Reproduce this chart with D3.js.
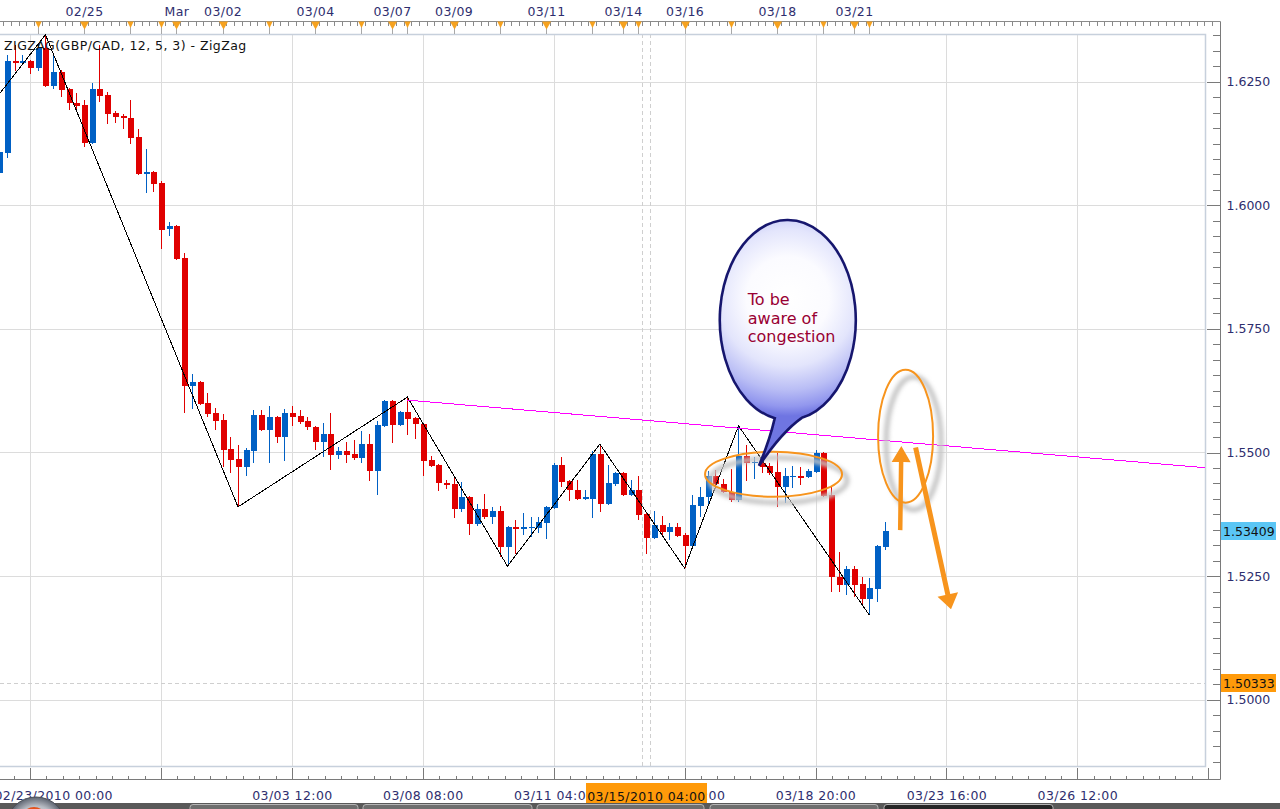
<!DOCTYPE html>
<html><head><meta charset="utf-8">
<script src="https://cdn.jsdelivr.net/npm/d3@7"></script>
<style>
html,body{margin:0;padding:0;background:#fff;overflow:hidden}
svg{display:block}
text{font-family:"DejaVu Sans",Verdana,sans-serif}
</style></head><body>
<svg id="c" width="1280" height="809"></svg>
<script>
// ---------- DATA (GBP/CAD H4 candles, index 0..115) ----------
const opens=[1.6066,1.6106,1.6292,1.6288,1.6292,1.6278,1.6318,1.6241,1.6270,1.6235,
1.6207,1.6203,1.6126,1.6235,1.6223,1.6187,1.6181,1.6177,1.6138,1.6063,
1.6067,1.6045,1.5952,1.5958,1.5894,1.5635,1.5643,1.5600,1.5580,1.5566,
1.5507,1.5487,1.5471,1.5503,1.5576,1.5546,1.5572,1.5531,1.5580,1.5574,
1.5564,1.5552,1.5521,1.5537,1.5495,1.5503,1.5497,1.5489,1.5517,1.5463,
1.5554,1.5604,1.5556,1.5582,1.5570,1.5558,1.5485,1.5475,1.5438,1.5436,
1.5386,1.5410,1.5355,1.5386,1.5370,1.5382,1.5309,1.5349,1.5345,1.5347,
1.5347,1.5357,1.5388,1.5475,1.5442,1.5424,1.5406,1.5406,1.5497,1.5396,
1.5436,1.5459,1.5414,1.5424,1.5376,1.5327,1.5353,1.5339,1.5349,1.5333,
1.5311,1.5392,1.5410,1.5452,1.5436,1.5420,1.5404,1.5493,1.5479,1.5479,
1.5473,1.5461,1.5430,1.5450,1.5452,1.5450,1.5461,1.5499,1.5414,1.5248,
1.5232,1.5264,1.5234,1.5204,1.5224,1.5309];
const highs=[1.6116,1.6304,1.6324,1.6304,1.6294,1.6326,1.6345,1.6304,1.6274,1.6237,
1.6227,1.6213,1.6248,1.6324,1.6229,1.6191,1.6185,1.6213,1.6154,1.6114,
1.6070,1.6049,1.5966,1.5960,1.5904,1.5659,1.5645,1.5620,1.5590,1.5578,
1.5531,1.5515,1.5509,1.5586,1.5586,1.5594,1.5574,1.5588,1.5594,1.5586,
1.5572,1.5554,1.5560,1.5580,1.5511,1.5521,1.5525,1.5544,1.5537,1.5564,
1.5606,1.5606,1.5584,1.5612,1.5572,1.5560,1.5493,1.5477,1.5444,1.5448,
1.5440,1.5412,1.5396,1.5416,1.5390,1.5392,1.5351,1.5363,1.5378,1.5370,
1.5370,1.5392,1.5479,1.5491,1.5444,1.5444,1.5424,1.5503,1.5517,1.5475,
1.5461,1.5461,1.5444,1.5452,1.5378,1.5382,1.5372,1.5357,1.5357,1.5337,
1.5414,1.5430,1.5463,1.5465,1.5446,1.5467,1.5554,1.5515,1.5491,1.5481,
1.5479,1.5499,1.5469,1.5473,1.5471,1.5467,1.5505,1.5501,1.5430,1.5299,
1.5270,1.5270,1.5248,1.5246,1.5313,1.5359];
const lows=[1.6059,1.6096,1.6272,1.6284,1.6266,1.6272,1.6239,1.6235,1.6219,1.6193,
1.6193,1.6118,1.6124,1.6209,1.6165,1.6167,1.6154,1.6124,1.6061,1.6025,
1.6027,1.5912,1.5938,1.5889,1.5580,1.5588,1.5596,1.5572,1.5546,1.5471,
1.5459,1.5390,1.5452,1.5479,1.5544,1.5479,1.5519,1.5483,1.5554,1.5558,
1.5546,1.5505,1.5491,1.5465,1.5487,1.5479,1.5485,1.5479,1.5442,1.5414,
1.5552,1.5519,1.5554,1.5535,1.5527,1.5452,1.5471,1.5422,1.5426,1.5368,
1.5380,1.5333,1.5351,1.5366,1.5355,1.5289,1.5270,1.5295,1.5333,1.5329,
1.5337,1.5325,1.5386,1.5430,1.5402,1.5404,1.5404,1.5368,1.5380,1.5394,
1.5432,1.5412,1.5412,1.5363,1.5295,1.5325,1.5331,1.5323,1.5329,1.5266,
1.5307,1.5370,1.5396,1.5426,1.5418,1.5400,1.5400,1.5442,1.5446,1.5459,
1.5455,1.5390,1.5398,1.5428,1.5434,1.5448,1.5459,1.5410,1.5218,1.5218,
1.5212,1.5208,1.5194,1.5171,1.5198,1.5303];
const closes=[1.6108,1.6292,1.6288,1.6292,1.6278,1.6318,1.6241,1.6270,1.6233,1.6207,
1.6201,1.6126,1.6235,1.6221,1.6185,1.6179,1.6177,1.6136,1.6063,1.6067,
1.6043,1.5950,1.5958,1.5891,1.5635,1.5643,1.5598,1.5578,1.5564,1.5505,
1.5485,1.5471,1.5505,1.5576,1.5546,1.5572,1.5531,1.5580,1.5572,1.5562,
1.5552,1.5521,1.5537,1.5495,1.5503,1.5495,1.5489,1.5517,1.5463,1.5556,
1.5604,1.5556,1.5582,1.5568,1.5558,1.5483,1.5473,1.5438,1.5434,1.5386,
1.5410,1.5355,1.5386,1.5370,1.5382,1.5309,1.5349,1.5345,1.5349,1.5349,
1.5359,1.5390,1.5475,1.5440,1.5424,1.5406,1.5410,1.5497,1.5396,1.5438,
1.5459,1.5414,1.5424,1.5374,1.5327,1.5353,1.5339,1.5349,1.5331,1.5311,
1.5394,1.5410,1.5452,1.5436,1.5420,1.5404,1.5493,1.5479,1.5481,1.5471,
1.5459,1.5430,1.5452,1.5452,1.5448,1.5463,1.5499,1.5412,1.5248,1.5232,
1.5264,1.5232,1.5204,1.5226,1.5311,1.5341];

const zigzagIdx=[-3,6,31,53,66,78,89,96,113];
const zigzagPrice=[1.6165,1.6345,1.5390,1.5612,1.5270,1.5517,1.5266,1.5554,1.5171];
const trendIdx=[53,157.5];
const trendPrice=[1.5606,1.5468];

const priceTicks=[1.5000,1.5250,1.5500,1.5750,1.6000,1.6250];
const topLabels=["02/25","Mar","03/02","03/04","03/07","03/09","03/11","03/14","03/16","03/18","03/21"];
const topLabelIdx=[11,23,29,41,51,59,71,81,89,101,111];
const eventIdx=[5,11,17,21,23,29,35,41,47,51,53,59,65,71,77,81,83,89,95,101,107,111,113];
const bottomLabels=["02/23/2010 00:00","","03/03 12:00","03/08 08:00","03/11 04:00","03/16 00:00","03/18 20:00","03/23 16:00","03/26 12:00",""];
const bottomLabelIdx=[4,21,38,55,72,89,106,123,140,157];
const legendText="ZIGZAG(GBP/CAD, 12, 5, 3) - ZigZag";
const lastPrice=1.53409, crossPrice=1.50333, crossIdx=84, crossLabel="03/15/2010 04:00";
const bubbleLines=["To be","aware of","congestion"];

// ---------- LAYOUT ----------
const svg=d3.select("#c");
const P={left:0,right:1205,top:34,bottom:766};
const AXR=1220.5, AXB=779.5, AXT=21.5;
const x=d3.scaleLinear().domain([0,100]).range([-0.7,769.3]);
const y=d3.scaleLinear().domain([1.5,1.625]).range([699.7,81.7]);
const navy="#2e2e6e", red="#e00000", blue="#0060c4", orange="#f7941d";

const defs=svg.append("defs");
defs.append("clipPath").attr("id","pc").append("rect")
  .attr("x",P.left).attr("y",P.top).attr("width",P.right-P.left).attr("height",P.bottom-P.top);
const rg=defs.append("radialGradient").attr("id","bg").attr("gradientUnits","userSpaceOnUse")
  .attr("cx",x(102.4)).attr("cy",y(1.5768)-22).attr("r",118);
[[0,"#ffffff"],[0.35,"#fbfbff"],[0.58,"#e3e5fc"],[0.78,"#b9bdf5"],[0.92,"#9297ee"],[1,"#6f75e2"]]
  .forEach(s=>rg.append("stop").attr("offset",s[0]).attr("stop-color",s[1]));
defs.append("filter").attr("id","blur1").append("feGaussianBlur").attr("stdDeviation",0.6);
defs.append("filter").attr("id","blur2").attr("x","-20%").attr("y","-20%").attr("width","140%").attr("height","140%")
  .append("feGaussianBlur").attr("stdDeviation",2);

// grid
const grid=svg.append("g").attr("shape-rendering","crispEdges");
grid.selectAll("line.h").data(priceTicks).join("line")
  .attr("x1",P.left).attr("x2",P.right).attr("y1",d=>Math.round(y(d))+0.5).attr("y2",d=>Math.round(y(d))+0.5)
  .attr("stroke","#dcdcdc");
grid.selectAll("line.v").data(bottomLabelIdx.filter(i=>x(i)<P.right)).join("line")
  .attr("y1",P.top).attr("y2",P.bottom).attr("x1",d=>Math.round(x(d))+0.5).attr("x2",d=>Math.round(x(d))+0.5)
  .attr("stroke","#dcdcdc");
// crosshair
grid.selectAll("line.cv").data([crossIdx-0.5,crossIdx+0.5]).join("line")
  .attr("y1",P.top).attr("y2",P.bottom).attr("x1",d=>Math.round(x(d))+0.5).attr("x2",d=>Math.round(x(d))+0.5)
  .attr("stroke","#cfcfcf").attr("stroke-dasharray","4,3");
grid.append("line").attr("x1",P.left).attr("x2",P.right)
  .attr("y1",Math.round(y(crossPrice))+0.5).attr("y2",Math.round(y(crossPrice))+0.5)
  .attr("stroke","#cfcfcf").attr("stroke-dasharray","4,3");

// plot border
svg.append("path").attr("d",`M${P.left},${P.top+0.5}H${P.right+0.5}V${P.bottom+0.5}H${P.left}`)
  .attr("fill","none").attr("stroke","#c7d0dc").attr("stroke-width",1.5);

// candles
const candles=opens.map((o,i)=>({i,o,h:highs[i],l:lows[i],c:closes[i]}));
const cg=svg.append("g").attr("clip-path","url(#pc)").attr("shape-rendering","crispEdges");
const col=d=>d.c>=d.o?blue:red;
cg.selectAll("rect.w").data(candles).join("rect")
  .attr("x",d=>Math.round(x(d.i))).attr("width",1)
  .attr("y",d=>Math.round(y(d.h))).attr("height",d=>Math.max(1,Math.round(y(d.l))-Math.round(y(d.h))))
  .attr("fill",col);
cg.selectAll("rect.b").data(candles).join("rect")
  .attr("x",d=>Math.round(x(d.i))-2).attr("width",6)
  .attr("y",d=>Math.round(y(Math.max(d.o,d.c))))
  .attr("height",d=>Math.max(1,Math.round(y(Math.min(d.o,d.c)))-Math.round(y(Math.max(d.o,d.c)))))
  .attr("fill",col);

// zigzag + trendline
const lg=svg.append("g").attr("clip-path","url(#pc)");
const zz=zigzagIdx.map((i,k)=>({i,p:zigzagPrice[k]}));
lg.append("path").datum(zz).attr("d",d3.line().x(d=>x(d.i)).y(d=>y(d.p)))
  .attr("fill","none").attr("stroke","#000").attr("stroke-width",1).attr("shape-rendering","crispEdges");
const tr=trendIdx.map((i,k)=>({i,p:trendPrice[k]}));
lg.append("path").datum(tr).attr("d",d3.line().x(d=>x(d.i)).y(d=>y(d.p)))
  .attr("fill","none").attr("stroke","#ff00ff").attr("stroke-width",1).attr("shape-rendering","crispEdges");

// legend
svg.append("text").attr("x",4).attr("y",49.5).attr("font-size","12.5px").attr("letter-spacing","0.45px")
  .attr("fill","#111").text(legendText);

// ---------- ANNOTATIONS ----------
const ann=svg.append("g");
function ellipseWithShadow(ci,cp,rx,ry,dx,dy){
  const cx=x(ci), cy=y(cp);
  ann.append("ellipse").attr("cx",cx+dx).attr("cy",cy+dy).attr("rx",rx).attr("ry",ry)
    .attr("fill","none").attr("stroke","#c4c4c4").attr("stroke-width",5).attr("filter","url(#blur2)");
  ann.append("ellipse").attr("cx",cx).attr("cy",cy).attr("rx",rx).attr("ry",ry)
    .attr("fill","none").attr("stroke",orange).attr("stroke-width",2);
}
ellipseWithShadow(100.55,1.5456,68.5,22.5,5,6);
ellipseWithShadow(117.7,1.5533,27.5,66.5,8,7);

function arrow(i0,p0,i1,p1,sw,hl,hw){
  const x0=x(i0),y0=y(p0),x1=x(i1),y1=y(p1);
  const L=Math.hypot(x1-x0,y1-y0), ux=(x1-x0)/L, uy=(y1-y0)/L, nx=-uy, ny=ux;
  const bx=x1-ux*hl, by=y1-uy*hl;
  const pts=[[x0+nx*sw/2,y0+ny*sw/2],[bx+nx*sw/2,by+ny*sw/2],[bx+nx*hw/2,by+ny*hw/2],[x1,y1],
    [bx-nx*hw/2,by-ny*hw/2],[bx-nx*sw/2,by-ny*sw/2],[x0-nx*sw/2,y0-ny*sw/2]];
  ann.append("path").attr("d","M"+pts.map(p=>p.join(",")).join("L")+"Z").attr("fill",orange);
}
arrow(117.0,1.5343,117.15,1.5513,4.5,16,19);
arrow(119.0,1.5510,123.6,1.5183,5,15,21);

// bubble
(function(){
  const cx=x(102.4), cy=y(1.5768), rx=68, ry=100;
  const tx=x(98.66), ty=y(1.5473);
  const p1=[cx-13,cy+ry*Math.sqrt(1-(13/rx)**2)], p2=[cx+14,cy+ry*Math.sqrt(1-(14/rx)**2)];
  const d=`M${p2[0]},${p2[1]}Q${cx-6},${cy+112} ${tx},${ty}Q${cx-18},${cy+120} ${p1[0]},${p1[1]}A${rx} ${ry} 0 1 1 ${p2[0]},${p2[1]}Z`;
  ann.append("path").attr("d",d).attr("fill","url(#bg)");
  ann.append("path").attr("d",d).attr("fill","none").attr("stroke","#16166e").attr("stroke-width",2.6)
    .attr("filter","url(#blur1)");
  ann.append("g").selectAll("text").data(bubbleLines).join("text")
    .attr("x",cx-40).attr("y",(d,k)=>cy-15+k*18.5)
    .attr("font-family","'Liberation Sans',Arial,sans-serif").attr("font-size","16px")
    .attr("fill","#990033").text(d=>d);
})();

// ---------- AXES ----------
const axFont=g=>g.selectAll("text").attr("font-size","12.5px").attr("fill",navy)
  .attr("font-family","'DejaVu Sans',Verdana,sans-serif");

// right axis
const yMinor=d3.range(1.4875,1.64,0.003125).filter(v=>y(v)>22&&y(v)<778);
svg.append("g").attr("transform",`translate(${AXR},0)`).attr("shape-rendering","crispEdges")
  .call(d3.axisRight(y).tickValues(yMinor).tickSizeInner(-8).tickSizeOuter(0).tickFormat(""))
  .call(g=>g.select(".domain").remove()).call(g=>g.selectAll("line").attr("stroke","#7a7a7a"));
svg.append("g").attr("transform",`translate(${AXR},0)`).attr("shape-rendering","crispEdges")
  .call(d3.axisRight(y).tickValues(priceTicks).tickSizeInner(-14).tickSizeOuter(0).tickPadding(6).tickFormat(d3.format(".4f")))
  .call(g=>g.select(".domain").remove()).call(g=>g.selectAll("line").attr("stroke","#7a7a7a")).call(axFont);
svg.append("line").attr("x1",AXR).attr("x2",AXR).attr("y1",AXT).attr("y2",AXB).attr("stroke","#7a7a7a");

// price boxes
[[lastPrice,"#5bc6f5",d3.format(".5f")],[crossPrice,"#ff9a0a",d3.format(".5f")]].forEach(([v,c,f])=>{
  const yy=Math.round(y(v));
  svg.append("rect").attr("x",AXR+0.5).attr("y",yy-9).attr("width",55).attr("height",18).attr("fill",c);
  svg.append("text").attr("x",AXR+2.5).attr("y",yy).attr("dy","0.36em").attr("font-size","12.5px")
    .attr("fill","#111").text(f(v));
});

// bottom axis
const xMinor=d3.range(4-2*2.125,158,2.125);
svg.append("g").attr("transform",`translate(0,${AXB})`).attr("shape-rendering","crispEdges")
  .call(d3.axisBottom(x).tickValues(xMinor).tickSizeInner(-4).tickSizeOuter(0).tickFormat(""))
  .call(g=>g.select(".domain").remove()).call(g=>g.selectAll("line").attr("stroke","#7a7a7a"));
const bax=svg.append("g").attr("transform",`translate(0,${AXB})`).attr("shape-rendering","crispEdges")
  .call(d3.axisBottom(x).tickValues(bottomLabelIdx).tickSizeInner(-12).tickSizeOuter(0).tickPadding(12)
    .tickFormat((d,k)=>bottomLabels[k]))
  .call(g=>g.select(".domain").remove()).call(g=>g.selectAll("line").attr("stroke","#7a7a7a")).call(axFont);
bax.selectAll("text").attr("letter-spacing","0.4px");
bax.selectAll(".tick").filter(d=>d===bottomLabelIdx[0]).select("text")
  .attr("text-anchor","start").attr("x",-6-x(bottomLabelIdx[0]));
svg.append("line").attr("x1",0).attr("x2",AXR).attr("y1",AXB).attr("y2",AXB).attr("stroke","#7a7a7a");

// crosshair time box
(function(){
  const cx=Math.round(x(crossIdx));
  svg.append("rect").attr("x",cx-60).attr("y",783).attr("width",121).attr("height",20).attr("fill","#ff9a0a");
  svg.append("text").attr("x",cx+0.5).attr("y",800.5).attr("text-anchor","middle").attr("font-size","12.5px")
    .attr("letter-spacing","0.4px").attr("fill","#111").text(crossLabel);
})();

// top axis
svg.append("line").attr("x1",0).attr("x2",AXR).attr("y1",AXT).attr("y2",AXT).attr("stroke","#8a8a8a");
svg.append("g").attr("transform",`translate(0,${AXT})`).attr("shape-rendering","crispEdges")
  .call(d3.axisTop(x).tickValues(d3.range(0.5,158,1)).tickSizeInner(-4).tickSizeOuter(0).tickFormat(""))
  .call(g=>g.select(".domain").remove()).call(g=>g.selectAll("line").attr("stroke","#8a8a8a"));
svg.append("g").attr("transform",`translate(0,${AXT})`).attr("shape-rendering","crispEdges")
  .call(d3.axisTop(x).tickValues(eventIdx).tickSizeInner(-12).tickSizeOuter(0).tickFormat(""))
  .call(g=>g.select(".domain").remove()).call(g=>g.selectAll("line").attr("stroke","#a8a8a8"));
const tax=svg.append("g").attr("transform",`translate(0,${AXT})`)
  .call(d3.axisTop(x).tickValues(topLabelIdx).tickSize(0).tickPadding(6).tickFormat((d,k)=>topLabels[k]))
  .call(g=>g.select(".domain").remove()).call(axFont);
tax.selectAll("text").attr("letter-spacing","0.4px");
// event triangles
svg.append("g").selectAll("path").data(eventIdx).join("path")
  .attr("d",d=>{const big=topLabelIdx.includes(d); const w=big?4.5:3.2, h=big?8:6.5, cx=Math.round(x(d))+0.5;
    return `M${cx-w},${AXT}L${cx+w},${AXT}L${cx},${AXT+h}Z`;})
  .attr("fill","#f6a21f");

// bottom strip with tabs
svg.append("rect").attr("x",0).attr("y",803).attr("width",1280).attr("height",6).attr("fill","#595959");
[[190,358,"#6e6e6e"],[363,532,"#6e6e6e"],[537,704,"#6e6e6e"],[710,878,"#6e6e6e"],[884,1053,"#262626"]].forEach(t=>{
  svg.append("rect").attr("x",t[0]).attr("y",804.5).attr("width",t[1]-t[0]).attr("height",10).attr("rx",3)
    .attr("fill",t[2]).attr("stroke","#b5b5b5");
});
const btn=defs.append("radialGradient").attr("id","btn");
[[0,"#f0f0f0"],[0.7,"#b8bcc4"],[1,"#5d6470"]].forEach(s=>btn.append("stop").attr("offset",s[0]).attr("stop-color",s[1]));
svg.append("circle").attr("cx",36).attr("cy",827).attr("r",30).attr("fill","url(#btn)").attr("stroke","#4a4f58");
svg.append("circle").attr("cx",34).attr("cy",820).attr("r",13).attr("fill","#e4521c");
</script>
</body></html>
